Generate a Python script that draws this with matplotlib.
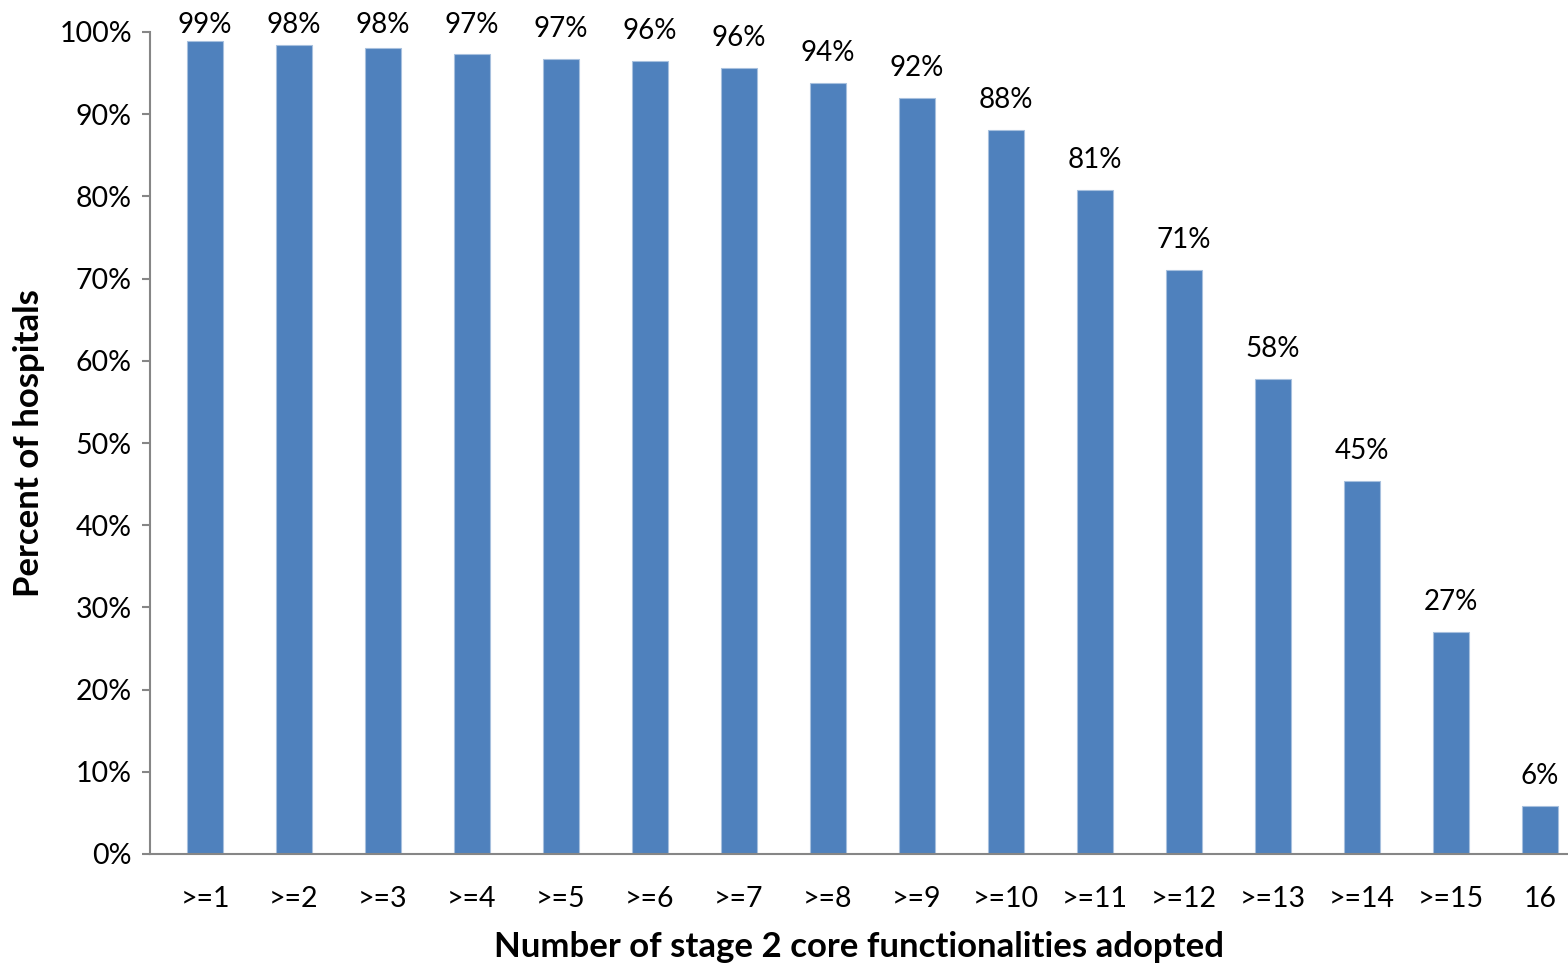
import matplotlib
matplotlib.use("Agg")
import matplotlib.pyplot as plt
from matplotlib.ticker import FuncFormatter

categories = [">=1", ">=2", ">=3", ">=4", ">=5", ">=6", ">=7", ">=8",
              ">=9", ">=10", ">=11", ">=12", ">=13", ">=14", ">=15", "16"]
values = [98.9, 98.4, 98.0, 97.3, 96.7, 96.5, 95.6, 93.8,
          92.0, 88.1, 80.8, 71.0, 57.8, 45.4, 27.0, 5.8]
labels = ["99%", "98%", "98%", "97%", "97%", "96%", "96%", "94%",
          "92%", "88%", "81%", "71%", "58%", "45%", "27%", "6%"]
yticks = list(range(0, 101, 10))

plt.rcParams['font.family'] = ['Lato', 'DejaVu Sans']

W, H = 1568, 965
fig = plt.figure(figsize=(W / 100, H / 100), dpi=100)
ax = fig.add_axes([150 / W, (H - 854) / H, (W - 150) / W, (854 - 32) / H])

axis_color = "#868686"
bar_color = "#4F81BD"

x = list(range(len(categories)))
ax.bar(x, values, width=0.4, color=bar_color, edgecolor="#A7C0DE", linewidth=0.8, zorder=2)

for xi, v, lab in zip(x, values, labels):
    ly = min(v + 3.65, 100.8)
    ax.text(xi, ly, lab, ha="center", va="center", fontsize=20, color="black",
            clip_on=False)

ax.set_xlim(-0.618, 15.315)
ax.set_ylim(0, 100)
ax.set_yticks(yticks)
ax.yaxis.set_major_formatter(FuncFormatter(lambda v, p: f"{int(v)}%"))
ax.set_xticks(x)
ax.set_xticklabels(categories)

for s in ["top", "right"]:
    ax.spines[s].set_visible(False)
for s in ["left", "bottom"]:
    ax.spines[s].set_color(axis_color)
    ax.spines[s].set_linewidth(1.5)

ax.tick_params(axis="y", direction="out", length=6, width=1.5, color=axis_color,
               labelsize=20.5, pad=7)
ax.tick_params(axis="x", length=0, labelsize=20.5, pad=23)

ax.set_ylabel("Percent of hospitals", fontsize=25, fontweight="bold", labelpad=10)
ax.set_xlabel("Number of stage 2 core functionalities adopted", fontsize=25,
              fontweight="bold", labelpad=14)

fig.savefig("out.png", dpi=100)
